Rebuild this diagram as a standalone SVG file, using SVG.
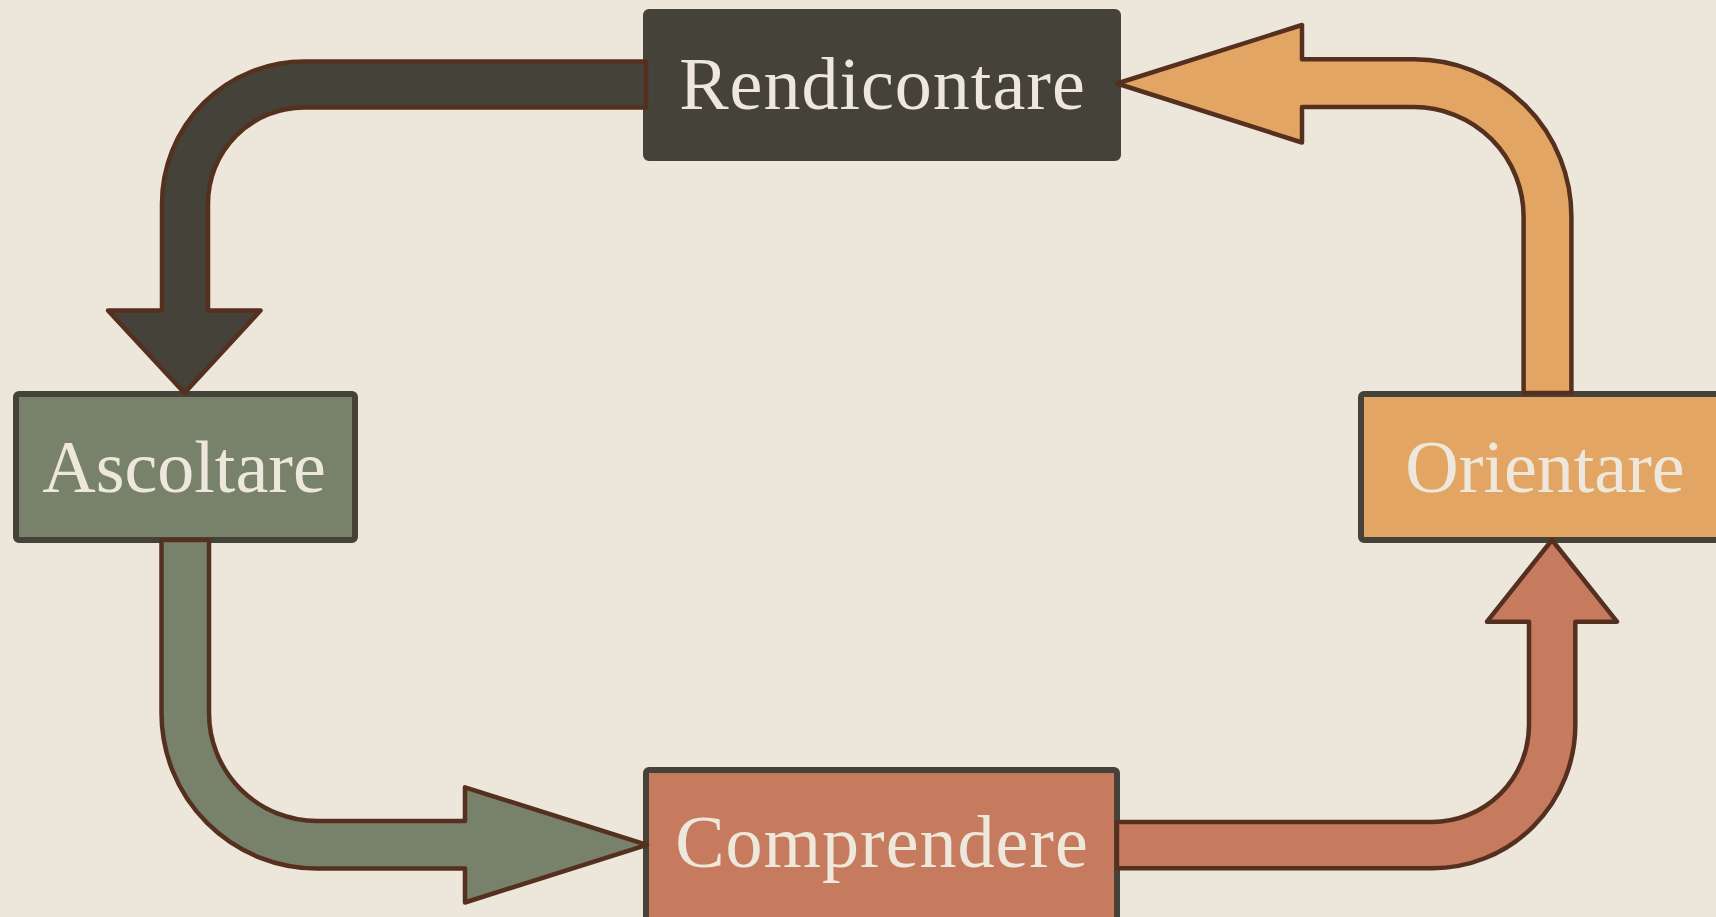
<svg xmlns="http://www.w3.org/2000/svg" width="1716" height="917" viewBox="0 0 1716 917">
  <style>
    .box { stroke: #45423A; stroke-width: 6; }
    .lbl { font-family: "Liberation Serif", "DejaVu Serif", serif; font-size: 74px; fill: #EEE8DC; text-anchor: middle; }
    .wide { letter-spacing: 1px; }
    .arr { stroke: #55301F; stroke-width: 4.5; stroke-linejoin: round; }
  </style>
  <rect x="0" y="0" width="1716" height="917" fill="#EDE6DB"/>
  <g id="node-rendicontare">
    <rect class="box" x="646" y="12" width="472" height="146" rx="3" fill="#45423A"/>
    <text class="lbl wide" x="882.5" y="109">Rendicontare</text>
  </g>
  <g id="node-ascoltare">
    <rect class="box" x="16" y="394" width="339" height="146" rx="3" fill="#78826A"/>
    <text class="lbl" x="184" y="492">Ascoltare</text>
  </g>
  <g id="node-orientare">
    <rect class="box" x="1361" y="394" width="371" height="146" rx="3" fill="#E3A563"/>
    <text class="lbl" x="1545" y="492">Orientare</text>
  </g>
  <g id="node-comprendere">
    <rect class="box" x="646" y="770" width="471" height="160" rx="3" fill="#C77B5E"/>
    <text class="lbl wide" x="882" y="867">Comprendere</text>
  </g>
  <g id="connectors">
    <path class="arr" fill="#45423A" d="M 646 61.5 H 304 A 142 142 0 0 0 162 203.5 V 310.5 H 108 L 184.5 393 L 260.5 310.5 H 208 V 203.5 A 96 96 0 0 1 304 107.5 H 646 Z"/>
    <path class="arr" fill="#78826A" d="M 161.5 540 V 713 A 155.5 155.5 0 0 0 317 868.5 H 465 V 902.5 L 647 844.8 L 465 787.3 V 821 H 317 A 108 108 0 0 1 209 713 V 540 Z"/>
    <path class="arr" fill="#C77B5E" d="M 1117 822 H 1432 A 97 97 0 0 0 1529 725 V 621.7 H 1487 L 1552 540 L 1617 621.7 H 1575.3 V 725 A 143.3 143.3 0 0 1 1432 868.3 H 1117 Z"/>
    <path class="arr" fill="#E3A563" d="M 1523.6 393 V 216.7 A 109.6 109.6 0 0 0 1414 107.1 H 1302 V 142.5 L 1117 83.5 L 1302 25 V 59.3 H 1414 A 157.4 157.4 0 0 1 1571.4 216.7 V 393 Z"/>
  </g>
</svg>
